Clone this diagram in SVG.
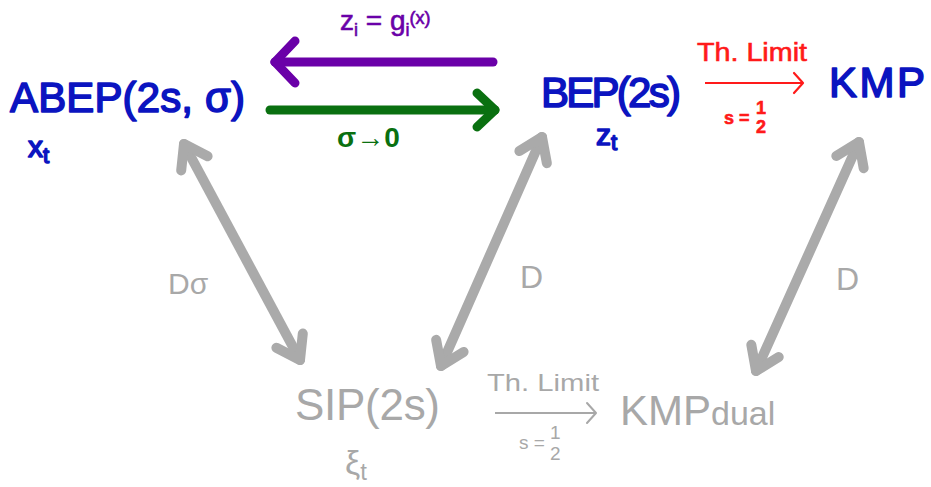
<svg xmlns="http://www.w3.org/2000/svg" width="931" height="487" viewBox="0 0 931 487">
<style>
text{font-family:"Liberation Sans","DejaVu Sans",sans-serif;}
.blue{fill:#0b14c0;stroke:#0b14c0;stroke-width:1.6;stroke-linejoin:round;}
.gray{fill:#a8a8a8;}
.red{fill:#ff1a1a;stroke:#ff1a1a;stroke-width:0.6;}
.purple{fill:#6a00a8;stroke:#6a00a8;stroke-width:0.6;}
.green{fill:#0a7010;}
.dbl{stroke:#aaaaaa;stroke-width:10;stroke-linecap:round;fill:none;marker-start:url(#mg);marker-end:url(#mg);}
</style>
<defs>
<marker id="mg" markerUnits="userSpaceOnUse" viewBox="0 0 40 40" markerWidth="40" markerHeight="40" refX="30" refY="20" orient="auto-start-reverse" overflow="visible">
<path d="M8 5 L30 20 L8 35" fill="none" stroke="#aaaaaa" stroke-width="10" stroke-linecap="round" stroke-linejoin="round"/>
</marker>
<marker id="mp" markerUnits="userSpaceOnUse" viewBox="0 0 40 50" markerWidth="40" markerHeight="50" refX="30" refY="23" orient="auto" overflow="visible">
<path d="M10 2 L30 23 L10 44" fill="none" stroke="#6a00a8" stroke-width="9" stroke-linecap="round" stroke-linejoin="round"/>
</marker>
<marker id="mgr" markerUnits="userSpaceOnUse" viewBox="0 0 40 50" markerWidth="40" markerHeight="50" refX="30" refY="23" orient="auto" overflow="visible">
<path d="M12 6 L30 23 L12 40" fill="none" stroke="#0a7010" stroke-width="9" stroke-linecap="round" stroke-linejoin="round"/>
</marker>
<marker id="mr" markerUnits="userSpaceOnUse" viewBox="0 0 20 24" markerWidth="20" markerHeight="24" refX="12" refY="12" orient="auto" overflow="visible">
<path d="M3 2 L12 12 L3 22" fill="none" stroke="#ff1a1a" stroke-width="2.2" stroke-linecap="round" stroke-linejoin="round"/>
</marker>
<marker id="ms" markerUnits="userSpaceOnUse" viewBox="0 0 20 24" markerWidth="20" markerHeight="24" refX="12" refY="12" orient="auto" overflow="visible">
<path d="M3 2 L12 12 L3 22" fill="none" stroke="#a8a8a8" stroke-width="2" stroke-linecap="round" stroke-linejoin="round"/>
</marker>
</defs>

<g id="connectors">
<line x1="493" y1="62" x2="275" y2="62" stroke="#6a00a8" stroke-width="9" stroke-linecap="round" marker-end="url(#mp)"/>
<line x1="270" y1="110" x2="495" y2="110" stroke="#0a7010" stroke-width="9" stroke-linecap="round" marker-end="url(#mgr)"/>
<line x1="705" y1="83" x2="803" y2="83" stroke="#ff1a1a" stroke-width="2.2" marker-end="url(#mr)"/>
<line x1="495" y1="413" x2="596" y2="413" stroke="#a8a8a8" stroke-width="2" marker-end="url(#ms)"/>
<line class="dbl" x1="184" y1="144" x2="300" y2="360"/>
<line class="dbl" x1="542" y1="137" x2="441" y2="366"/>
<line class="dbl" x1="859" y1="142" x2="756" y2="371"/>
<text class="purple" x="340" y="30" font-size="28">z<tspan font-size="18" dy="6">i</tspan><tspan dy="-6"> = g</tspan><tspan font-size="18" dy="6">i</tspan><tspan font-size="18" dy="-12">(x)</tspan></text>
<text class="green" x="337" y="147" font-size="28" font-weight="bold">σ→0</text>
<text class="red" x="697" y="61" font-size="25" textLength="110" lengthAdjust="spacingAndGlyphs">Th. Limit</text>
<g class="red" font-size="18" font-weight="bold">
<text x="724" y="124">s =</text>
<text x="756" y="114">1</text>
<text x="756" y="133">2</text>
</g>
<text class="gray" x="487" y="391" font-size="24" textLength="112" lengthAdjust="spacingAndGlyphs">Th. Limit</text>
<g class="gray" font-size="19">
<text x="519" y="449">s =</text>
<text x="550" y="439">1</text>
<text x="550" y="460">2</text>
</g>
<text class="gray" x="168" y="294" font-size="30">Dσ</text>
<text class="gray" x="520" y="288" font-size="32">D</text>
<text class="gray" x="836" y="290" font-size="32">D</text>
</g>

<g id="abep">
<text class="blue" x="10" y="112" font-size="42" textLength="235" lengthAdjust="spacing">ABEP(2s, σ)</text>
<text class="blue" x="28" y="157" font-size="30" stroke-width="0.8">x<tspan font-size="22" dy="6">t</tspan></text>
</g>
<g id="bep">
<text class="blue" x="541" y="107" font-size="42" textLength="140" lengthAdjust="spacing">BEP(2s)</text>
<text class="blue" x="596" y="145" font-size="30" stroke-width="0.8">z<tspan font-size="22" dy="5">t</tspan></text>
</g>
<g id="kmp">
<text class="blue" x="829" y="97" font-size="42" textLength="96" lengthAdjust="spacing">KMP</text>
</g>
<g id="sip">
<text class="gray" x="295" y="420" font-size="44" textLength="145" lengthAdjust="spacing">SIP(2s)</text>
<text class="gray" x="345" y="474" font-size="34">ξ<tspan font-size="24" dy="6">t</tspan></text>
</g>
<g id="kmpdual">
<text class="gray" x="620" y="425" font-size="42">KMP<tspan font-size="34">dual</tspan></text>
</g>
</svg>
